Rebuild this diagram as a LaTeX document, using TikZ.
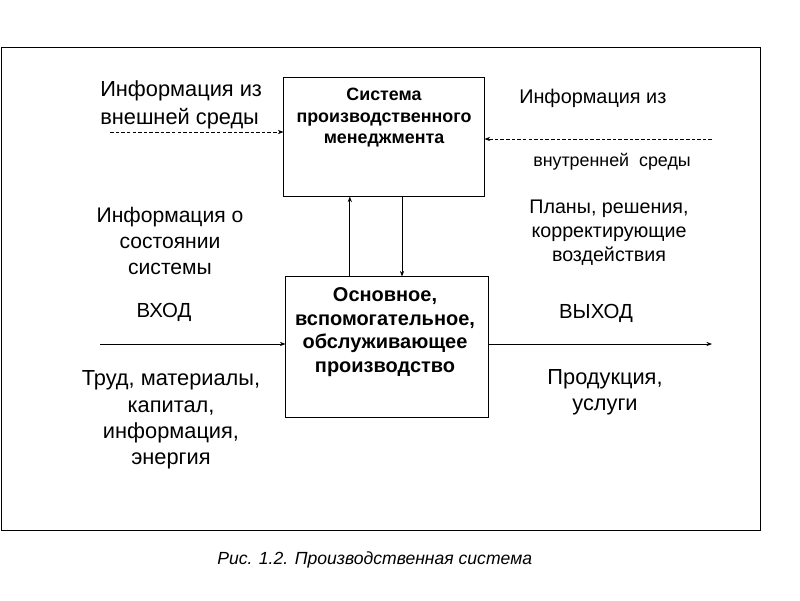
\documentclass[tikz,border=0pt]{standalone}
\usepackage{fontspec}
\setmainfont{Liberation Sans}
\usetikzlibrary{arrows.meta}

\tikzset{
    blockbox/.style={draw, line width=0.7pt, inner sep=0pt},
    infotext/.style={inner sep=0pt, align=center, font=\fontsize{15pt}{18.8pt}\selectfont},
    flow/.style={line width=0.5pt, -{Stealth[length=4pt,width=3pt]}},
    dashflow/.style={flow, dash pattern=on 2.5pt off 1.5pt}
}

\begin{document}
\begin{tikzpicture}[x=0.025cm, y=-0.025cm]
    \useasboundingbox (0,0) rectangle (800,600);
    %\draw[very thin,color=gray] (0,0) grid[step=50] (800,600);
    \draw[line width=0.7pt] (1,47) rectangle (760,530);

    % blocks
    \node[blockbox, minimum width=5cm, minimum height=2.95cm] (mgmt) at (384,137) {};
    \node[blockbox, minimum width=5.05cm, minimum height=3.5cm] (prod) at (387,347) {};
    \node[inner sep=0pt, align=center, font=\bfseries\fontsize{12.7pt}{15.3pt}\selectfont] (mgmttext) at (384,118)
        {Система\\производственного\\менеджмента};
    \node[inner sep=0pt, align=center, font=\bfseries\fontsize{14.2pt}{16.7pt}\selectfont] (prodtext) at (385,332)
        {Основное,\\вспомогательное,\\обслуживающее\\производство};

    % connectors between the blocks
    \draw[flow] ([xshift=-0.93cm]prod.north) -- ([xshift=-0.93cm]prod.north |- mgmt.south);
    \draw[flow] ([xshift=0.45cm]mgmt.south) -- ([xshift=0.45cm]mgmt.south |- prod.north);

    % free ends
    \coordinate (extin) at (110,132);
    \coordinate (intin) at (712,139);
    \coordinate (input) at (100,344);
    \coordinate (output) at (712,344);
    \draw[dashflow] (extin) -- (extin -| mgmt.west);
    \draw[dashflow] (intin) -- (intin -| mgmt.east);
    \draw[flow] (input) -- (input -| prod.west);
    \draw[flow] (prod.east |- output) -- (output);

    % labels
    \node[infotext, anchor=west, align=left, font=\fontsize{15.5pt}{19.5pt}\selectfont] (extinfo) at (100,105)
        {Информация из\\внешней среды};
    \node[infotext, anchor=west, font=\fontsize{14.1pt}{17pt}\selectfont] (intinfo) at (519,98) {Информация из};
    \node[inner sep=0pt, anchor=west, font=\fontsize{12.7pt}{15pt}\selectfont] (intenv) at (533,162) {внутренней\ \ среды};
    \node[infotext] (state) at (170,241) {Информация о\\состоянии\\системы};
    \node[infotext, font=\fontsize{14pt}{17pt}\selectfont] (plans) at (609,233) {Планы, решения,\\корректирующие\\воздействия};
    \node[infotext, font=\fontsize{14.5pt}{17pt}\selectfont] (inlabel) at (164,312) {ВХОД};
    \node[infotext, font=\fontsize{14.5pt}{17pt}\selectfont] (outlabel) at (596,313) {ВЫХОД};
    \node[infotext, font=\fontsize{15.5pt}{18.7pt}\selectfont] (resources) at (171,420)
        {Труд, материалы,\\капитал,\\информация,\\энергия};
    \node[infotext, font=\fontsize{15.5pt}{18.7pt}\selectfont] (products) at (605,392) {Продукция,\\услуги};

    % caption
    \node[inner sep=0pt, anchor=west, font=\itshape\fontsize{12.5pt}{14pt}\selectfont] (caption) at (217,560)
        {Рис. 1.2. Производственная система};
\end{tikzpicture}
\end{document}
